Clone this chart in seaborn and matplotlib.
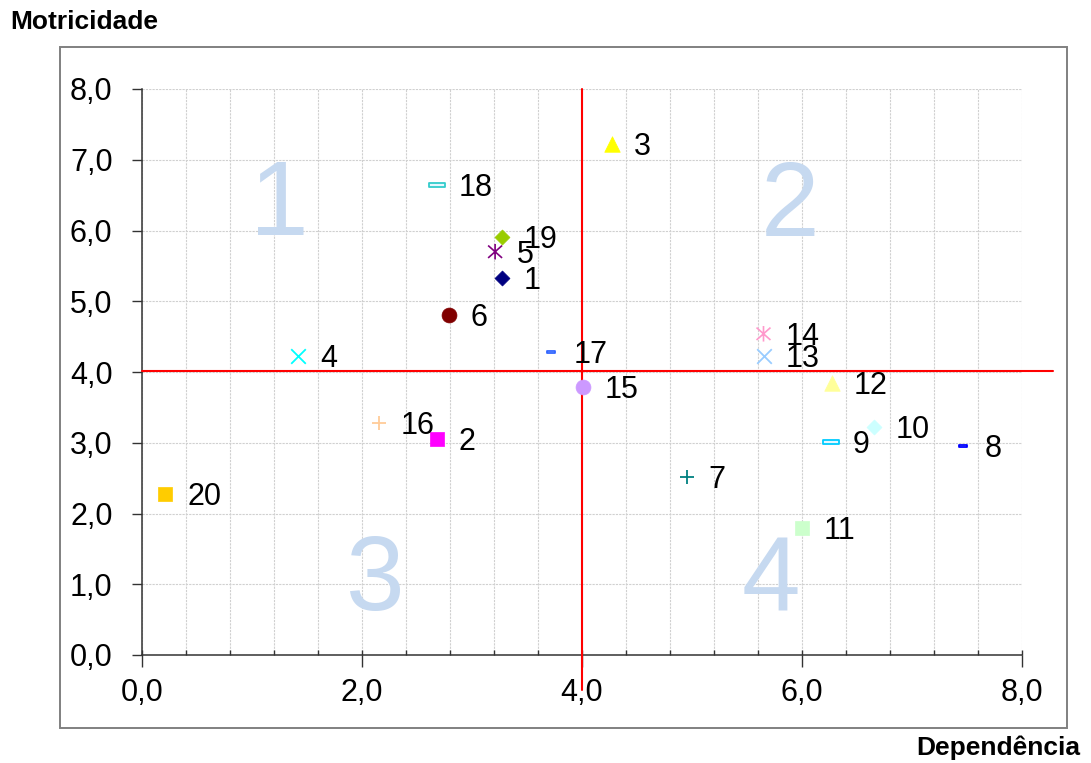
import numpy as np
import matplotlib
matplotlib.use('Agg')
import matplotlib.pyplot as plt
from matplotlib.path import Path
from matplotlib.patches import Rectangle
from matplotlib.ticker import MultipleLocator, FuncFormatter
import seaborn as sns

# ---- data ----
labels = ['1', '2', '3', '4', '5', '6', '7', '8', '9', '10',
          '11', '12', '13', '14', '15', '16', '17', '18', '19', '20']
dependencia = [3.27, 2.68, 4.27, 1.42, 3.21, 2.79, 4.95, 7.46, 6.26, 6.65,
               6.00, 6.27, 5.65, 5.65, 4.01, 2.15, 3.72, 2.68, 3.27, 0.21]
motricidade = [5.33, 3.05, 7.22, 4.23, 5.70, 4.81, 2.52, 2.95, 3.01, 3.22,
               1.80, 3.84, 4.23, 4.54, 3.79, 3.28, 4.28, 6.64, 5.91, 2.28]
corte_dep = 4.0
corte_mot = 4.01
quadrantes = ['1', '2', '3', '4']

# ---- styles (Excel default marker cycle) ----
DASH = Path([(-1, -0.28), (1, -0.28), (1, 0.28), (-1, 0.28), (-1, -0.28)], closed=True)
ASTER = Path([(0, -1), (0, 1), (-0.9, -0.8), (0.9, 0.8), (-0.9, 0.8), (0.9, -0.8)],
             [Path.MOVETO, Path.LINETO] * 3)

estilos = [
    ('D', '#000080', 58), ('s', '#ff00ff', 110), ('^', '#ffff00', 125),
    ('x', '#00ffff', 110), ('ast', '#800080', 125), ('o', '#800000', 115),
    ('+', '#008080', 100), ('dash', '#0000ff', 33), ('dash', '#00ccff', 117),
    ('D', '#ccffff', 58), ('s', '#ccffcc', 110), ('^', '#ffff99', 125),
    ('x', '#99ccff', 110), ('ast', '#ff99cc', 125), ('o', '#cc99ff', 115),
    ('+', '#ffcc99', 100), ('dash', '#3366ff', 40), ('dash', '#33cccc', 117),
    ('D', '#99cc00', 58), ('s', '#ffcc00', 110),
]
quad_pos = [(1.245, 5.94), (5.89, 5.92), (2.12, 0.64), (5.72, 0.61)]

sns.set_style('white')
plt.rcParams['font.family'] = ['Liberation Sans', 'DejaVu Sans']
plt.rcParams['text.color'] = 'black'
plt.rcParams['xtick.color'] = 'black'
plt.rcParams['ytick.color'] = 'black'

fig = plt.figure(figsize=(10.91, 7.63), dpi=100)
ax = fig.add_axes([142 / 1091, 108 / 763, 880 / 1091, 566 / 763])

# outer chart frame
fig.add_artist(Rectangle((60 / 1091, 1 - 728 / 763), 1007 / 1091, 681 / 763,
                         transform=fig.transFigure, fill=False,
                         edgecolor='#808080', lw=1.4))

# big quadrant numbers
for q, (qx, qy) in zip(quadrantes, quad_pos):
    ax.text(qx, qy, q, fontsize=76, color='#c6d9f0', ha='center', va='baseline', zorder=1)

# points
for lab, xv, yv, (mk, col, sz) in zip(labels, dependencia, motricidade, estilos):
    if mk == 'dash':
        sns.scatterplot(x=[xv], y=[yv], marker=DASH, s=sz, color=col, facecolor='#e6f7ff',
                        edgecolor=col, linewidth=1.3, ax=ax, zorder=4, legend=False)
    elif mk == 'ast':
        sns.scatterplot(x=[xv], y=[yv], marker=ASTER, s=sz, color=col, facecolor='none',
                        edgecolor=col, linewidth=1.2, ax=ax, zorder=4, legend=False)
    elif mk in ('x', '+'):
        sns.scatterplot(x=[xv], y=[yv], marker=mk, s=sz, color=col,
                        linewidth=1.3, ax=ax, zorder=4, legend=False)
    else:
        sns.scatterplot(x=[xv], y=[yv], marker=mk, s=sz, color=col,
                        edgecolor=col, linewidth=0.5, ax=ax, zorder=4, legend=False)
    ax.annotate(lab, (xv, yv), xytext=(22, -3), textcoords='offset pixels',
                ha='left', va='center', fontsize=22, zorder=5)

# cut lines
ax.plot([corte_dep, corte_dep], [-0.49, 8.0], color='red', lw=1.5, clip_on=False, zorder=3)
ax.plot([0, 8.28], [corte_mot, corte_mot], color='red', lw=1.5, clip_on=False, zorder=3)

ax.set_xlim(0, 8)
ax.set_ylim(0, 8)
ax.xaxis.set_major_locator(MultipleLocator(2))
ax.xaxis.set_minor_locator(MultipleLocator(0.4))
ax.xaxis.remove_overlapping_locs = False
ax.yaxis.set_major_locator(MultipleLocator(1))
fmt = FuncFormatter(lambda v, p: f'{v:.1f}'.replace('.', ','))
ax.xaxis.set_major_formatter(fmt)
ax.yaxis.set_major_formatter(fmt)

ax.grid(False)
ax.grid(which='minor', axis='x', color='#d0d0d0', linestyle=(0, (2, 1)), lw=0.8)
ax.grid(which='major', axis='y', color='#d0d0d0', linestyle=(0, (2, 1)), lw=0.8)
ax.set_axisbelow(True)

for side in ['top', 'right']:
    ax.spines[side].set_visible(False)
for side in ['left', 'bottom']:
    ax.spines[side].set_color('#333333')
    ax.spines[side].set_linewidth(1.1)

ax.tick_params(axis='y', which='major', direction='out', length=7.2, width=1,
               color='#333333', pad=14, labelsize=22, left=True)
ax.tick_params(axis='x', which='major', direction='out', length=8.6, width=1,
               color='#333333', pad=8, labelsize=22, bottom=True)
ax.tick_params(axis='x', which='minor', direction='in', length=3.6, width=1,
               color='#333333', bottom=True)

fig.text(10 / 1091, 1 - 22 / 763, 'Motricidade', ha='left', va='center',
         fontsize=19, fontweight='bold')
fig.text(1080 / 1091, 1 - 755 / 763, 'Dependência', ha='right', va='baseline',
         fontsize=19, fontweight='bold')

fig.savefig('out.png', dpi=100)
